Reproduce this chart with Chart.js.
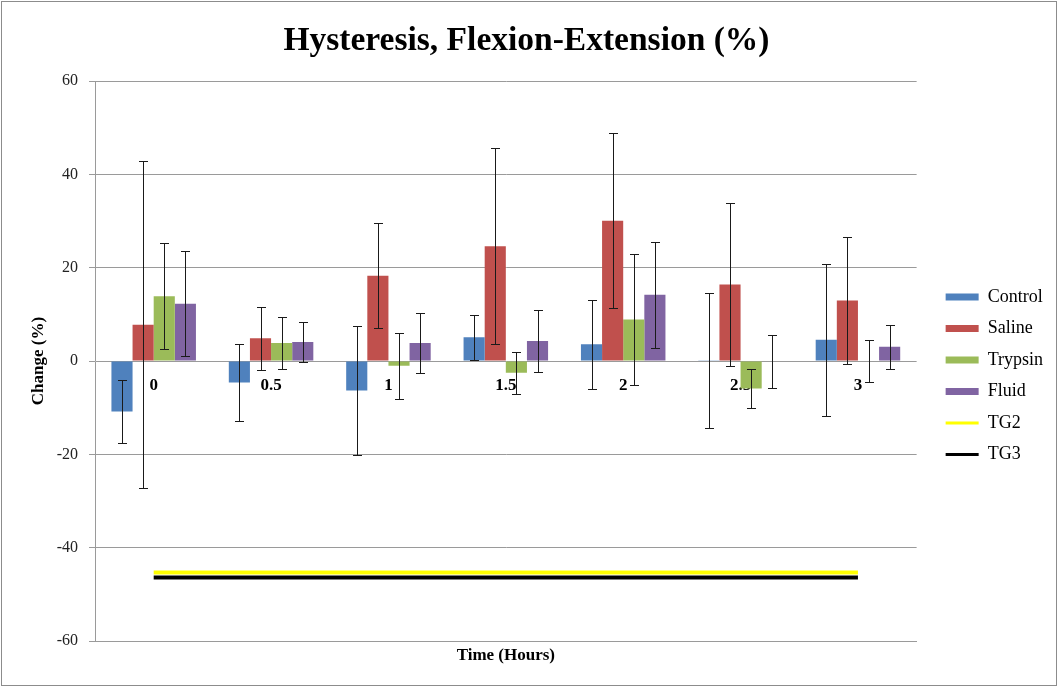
<!DOCTYPE html>
<html>
<head>
<meta charset="utf-8">
<script src="https://cdn.jsdelivr.net/npm/chart.js@4.4.1/dist/chart.umd.min.js"></script>
<style>
  html, body { margin: 0; padding: 0; background: #fff; }
  #wrap { width: 1058px; height: 687px; position: relative; }
</style>
</head>
<body>
<div id="wrap"><canvas id="c" width="1058" height="687"></canvas></div>
<script>
// Time points (hours)
const categories = ['0', '0.5', '1', '1.5', '2', '2.5', '3'];

// Mean change (%) per group
const control = [-10.8, -4.6, -6.3, 5.1, 3.6, 0.2, 4.6];
const saline  = [7.8, 4.9, 18.3, 24.6, 30.1, 16.4, 13.0];
const trypsin = [13.9, 3.9, -1.0, -2.5, 8.9, -5.9, 0.0];
const fluid   = [12.3, 4.1, 3.9, 4.3, 14.2, 0.0, 3.1];

// Error bar half-lengths (%)
const controlErr = [6.7, 8.2, 13.8, 4.8, 9.5, 14.5, 16.3];
const salineErr  = [35.0, 6.8, 11.3, 21.0, 18.8, 17.4, 13.6];
const trypsinErr = [11.4, 5.5, 7.1, 4.5, 14.1, 4.2, 4.5];
const fluidErr   = [11.3, 4.3, 6.4, 6.6, 11.4, 5.7, 4.7];

// Reference levels
const tg2 = [-45.3, -45.3, -45.3, -45.3, -45.3, -45.3, -45.3];
const tg3 = [-46.4, -46.4, -46.4, -46.4, -46.4, -46.4, -46.4];

// y-axis tick range
const yMin = -60, yMax = 60, yStep = 20;

const serif = "'Liberation Serif', 'Times New Roman', serif";
const gridGray = '#9a9a9a';

const errorSets = [controlErr, salineErr, trypsinErr, fluidErr];

// Whiskers with caps on each bar, positioned through the y scale
const errorBars = {
  id: 'errorBars',
  afterDatasetsDraw(chart) {
    const ctx = chart.ctx;
    const ys = chart.scales.y;
    errorSets.forEach((errs, i) => {
      const meta = chart.getDatasetMeta(i);
      const vals = chart.data.datasets[i].data;
      meta.data.forEach((bar, j) => {
        const top = Math.round(ys.getPixelForValue(vals[j] + errs[j])) + 0.5;
        const bot = Math.round(ys.getPixelForValue(vals[j] - errs[j])) + 0.5;
        const x = Math.round(bar.x) + 0.5;
        ctx.save();
        ctx.strokeStyle = '#1a1a1a';
        ctx.lineWidth = 1;
        ctx.beginPath();
        ctx.moveTo(x, top); ctx.lineTo(x, bot);
        ctx.moveTo(x - 4.5, top); ctx.lineTo(x + 4.5, top);
        ctx.moveTo(x - 4.5, bot); ctx.lineTo(x + 4.5, bot);
        ctx.stroke();
        ctx.restore();
      });
    });
  }
};

// White background and thin outer frame
const frame = {
  id: 'frame',
  beforeDraw(chart) {
    const ctx = chart.ctx;
    ctx.save();
    ctx.fillStyle = '#fff';
    ctx.fillRect(0, 0, chart.width, chart.height);
    ctx.restore();
  },
  afterDraw(chart) {
    const ctx = chart.ctx;
    ctx.save();
    ctx.strokeStyle = '#8c8c8c';
    ctx.lineWidth = 1;
    ctx.strokeRect(1.5, 1.5, chart.width - 3, chart.height - 3);
    ctx.restore();
  }
};

function legendItems(chart) {
  return chart.data.datasets.map((ds, i) => {
    const isLine = ds.type === 'line';
    const col = isLine ? ds.borderColor : ds.backgroundColor;
    return {
      text: ds.label,
      fillStyle: col,
      strokeStyle: col,
      lineWidth: isLine ? 3 : 0,
      pointStyle: isLine ? 'line' : 'rect',
      hidden: false,
      datasetIndex: i,
      fontColor: '#000'
    };
  });
}

new Chart(document.getElementById('c'), {
  type: 'bar',
  data: {
    labels: categories,
    datasets: [
      { label: 'Control', data: control, backgroundColor: '#4F81BD', xAxisID: 'x', yAxisID: 'y' },
      { label: 'Saline',  data: saline,  backgroundColor: '#C0504D', xAxisID: 'x', yAxisID: 'y' },
      { label: 'Trypsin', data: trypsin, backgroundColor: '#9BBB59', xAxisID: 'x', yAxisID: 'y' },
      { label: 'Fluid',   data: fluid,   backgroundColor: '#8064A2', xAxisID: 'x', yAxisID: 'y' },
      { type: 'line', label: 'TG2', data: tg2, borderColor: '#FFFF00', backgroundColor: '#FFFF00',
        borderWidth: 4, pointRadius: 0, fill: false, xAxisID: 'x', yAxisID: 'y' },
      { type: 'line', label: 'TG3', data: tg3, borderColor: '#000000', backgroundColor: '#000000',
        borderWidth: 4, pointRadius: 0, fill: false, xAxisID: 'x', yAxisID: 'y' }
    ]
  },
  options: {
    responsive: false,
    animation: false,
    layout: { padding: { left: 0, top: 0, bottom: 0, right: 5 } },
    datasets: { bar: { categoryPercentage: 0.72, barPercentage: 1.0 } },
    plugins: {
      title: {
        display: true,
        text: 'Hysteresis, Flexion-Extension (%)',
        color: '#000',
        font: { family: serif, size: 33.5, weight: 'bold' },
        padding: { top: 21, bottom: 20 }
      },
      legend: {
        position: 'right',
        align: 'center',
        title: { display: true, text: '', font: { size: 12 }, padding: { top: 50, bottom: 0 } },
        labels: {
          usePointStyle: true,
          pointStyleWidth: 33,
          boxHeight: 7,
          padding: 13.5,
          color: '#000',
          font: { family: serif, size: 18 },
          generateLabels: legendItems
        }
      },
      tooltip: { enabled: false }
    },
    scales: {
      x: {
        type: 'category',
        position: 'bottom',
        offset: true,
        grid: { display: false },
        border: { display: true, color: gridGray },
        ticks: { display: false },
        title: {
          display: true,
          text: 'Time (Hours)',
          color: '#000',
          font: { family: serif, size: 17, weight: 'bold' },
          padding: { top: 0, bottom: 21 }
        },
        afterFit(s) { s.height = 46; }
      },
      xl: {
        type: 'category',
        labels: categories,
        position: { y: 0 },
        offset: true,
        grid: { display: false, drawTicks: false },
        border: { display: false },
        ticks: {
          color: '#000',
          font: { family: serif, size: 17, weight: 'bold' },
          padding: 14,
          maxRotation: 0,
          autoSkip: false
        }
      },
      y: {
        type: 'linear',
        position: 'left',
        min: yMin,
        max: yMax,
        ticks: { stepSize: yStep, color: '#222', font: { family: serif, size: 16 }, padding: 11 },
        grid: { color: gridGray, tickLength: 6, drawTicks: true },
        border: { display: true, color: gridGray },
        title: {
          display: true,
          text: 'Change (%)',
          color: '#000',
          font: { family: serif, size: 17, weight: 'bold' },
          padding: { top: 28, bottom: 0 }
        },
        afterFit(s) { s.width = 95; }
      },
      gap: {
        type: 'linear',
        position: 'right',
        display: true,
        grid: { display: false },
        border: { display: false },
        ticks: { display: false },
        afterFit(s) { s.width = 15.5; }
      }
    }
  },
  plugins: [frame, errorBars]
});
</script>
</body>
</html>
